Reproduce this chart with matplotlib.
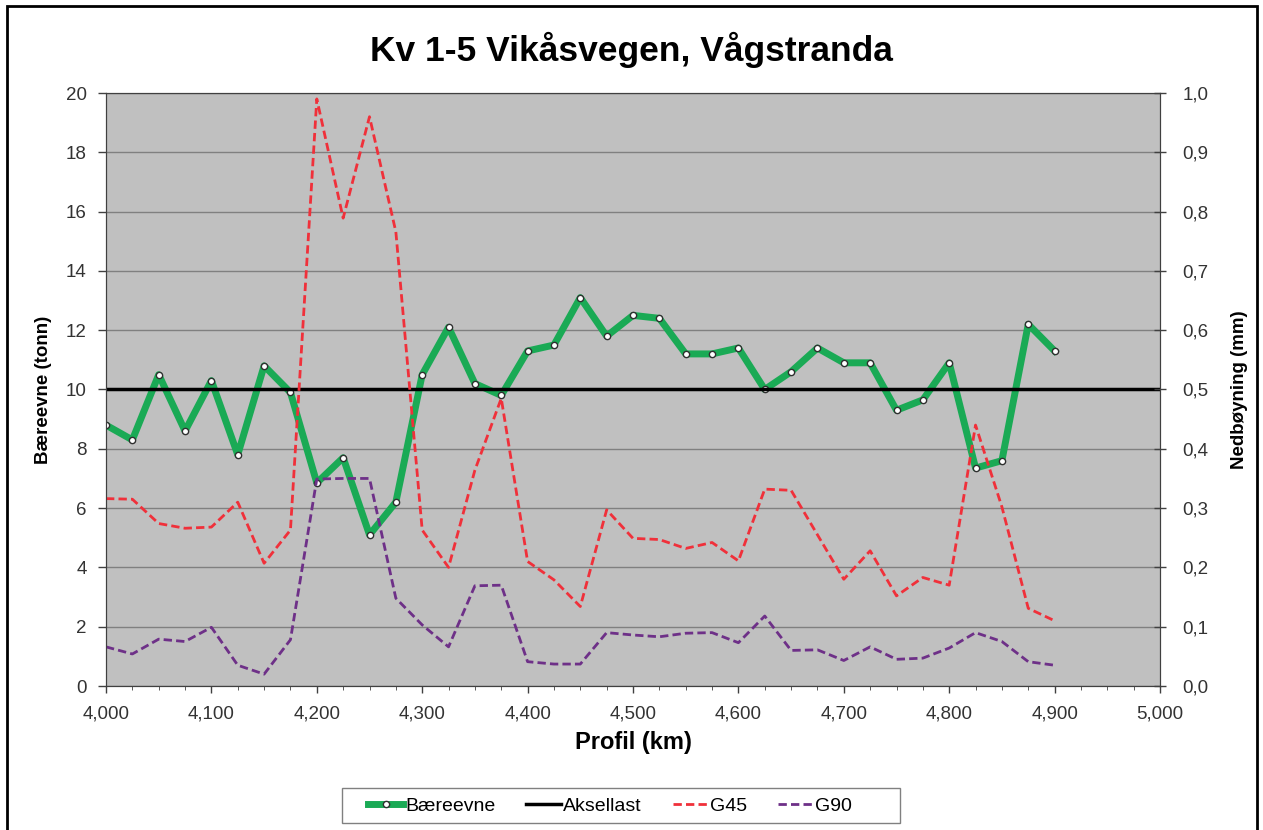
import numpy as np
import matplotlib.pyplot as plt
from matplotlib.patches import Rectangle
from matplotlib.ticker import MultipleLocator, FuncFormatter

plt.rcParams['font.family'] = ['Liberation Sans', 'DejaVu Sans']

# ================= DATA =================
profil = [4.000, 4.025, 4.050, 4.075, 4.100, 4.125, 4.150, 4.175, 4.200, 4.225,
          4.250, 4.275, 4.300, 4.325, 4.350, 4.375, 4.400, 4.425, 4.450, 4.475,
          4.500, 4.525, 4.550, 4.575, 4.600, 4.625, 4.650, 4.675, 4.700, 4.725,
          4.750, 4.775, 4.800, 4.825, 4.850, 4.875, 4.900]

baereevne = [8.8, 8.3, 10.5, 8.6, 10.3, 7.8, 10.8, 9.9, 6.85, 7.7,
             5.1, 6.2, 10.5, 12.1, 10.2, 9.8, 11.3, 11.5, 13.1, 11.8,
             12.5, 12.4, 11.2, 11.2, 11.4, 10.0, 10.6, 11.4, 10.9, 10.9,
             9.3, 9.65, 10.9, 7.35, 7.6, 12.2, 11.3]

aksellast_x = [4.0, 5.0]
aksellast = [10, 10]

g45 = [0.316, 0.315, 0.274, 0.266, 0.268, 0.310, 0.207, 0.263, 0.990, 0.789,
       0.960, 0.766, 0.263, 0.200, 0.364, 0.485, 0.210, 0.179, 0.134, 0.297,
       0.249, 0.247, 0.232, 0.242, 0.211, 0.332, 0.330, 0.255, 0.180, 0.228,
       0.152, 0.183, 0.170, 0.440, 0.302, 0.131, 0.110]

g90 = [0.066, 0.054, 0.079, 0.075, 0.099, 0.035, 0.020, 0.078, 0.349, 0.350,
       0.350, 0.148, 0.103, 0.066, 0.169, 0.170, 0.041, 0.037, 0.037, 0.090,
       0.086, 0.083, 0.089, 0.090, 0.073, 0.118, 0.060, 0.061, 0.043, 0.066,
       0.045, 0.047, 0.064, 0.090, 0.075, 0.041, 0.035]
# ========================================

fig = plt.figure(figsize=(12.63, 8.3), dpi=100)
ax = fig.add_axes([106 / 1263, 1 - 686 / 830, (1160 - 106) / 1263, (686 - 93) / 830])
ax2 = ax.twinx()

ax.set_facecolor('#C0C0C0')
ax.set_xlim(4.0, 5.0)
ax.set_ylim(0, 20)
ax2.set_ylim(0, 1.0)

ax.yaxis.set_major_locator(MultipleLocator(2))
ax2.yaxis.set_major_locator(MultipleLocator(0.1))
ax.xaxis.set_major_locator(MultipleLocator(0.1))
ax.xaxis.set_minor_locator(MultipleLocator(0.025))
ax.grid(True, axis='y', color='#808080', lw=1)
ax.set_axisbelow(True)

comma = lambda fmt: FuncFormatter(lambda v, p: (fmt % v).replace('.', ','))
ax.xaxis.set_major_formatter(comma('%.3f'))
ax.yaxis.set_major_formatter(FuncFormatter(lambda v, p: '%d' % round(v)))
ax2.yaxis.set_major_formatter(comma('%.1f'))

for a in (ax, ax2):
    a.tick_params(labelsize=13.5, width=1, color='#404040', labelcolor='#333333')
    for s in a.spines.values():
        s.set_color('#404040')
ax.tick_params(axis='y', length=6, pad=8)
ax.tick_params(axis='x', length=5, pad=9)
ax.tick_params(axis='x', which='minor', length=3, color='#404040')
ax2.tick_params(axis='y', direction='inout', length=8, pad=12)

l1, = ax.plot(profil, baereevne, color='#1AAA55', lw=5, marker='o', ms=4.5,
              mfc='white', mec='#303030', mew=1, zorder=3, label='Bæreevne')
l2, = ax.plot(aksellast_x, aksellast, color='black', lw=2.5, zorder=4, label='Aksellast')
l3, = ax2.plot(profil, g45, color='#F0303A', lw=2, ls=(0, (3, 1.5)), label='G45')
l4, = ax2.plot(profil, g90, color='#6E3088', lw=2, ls=(0, (3, 1.5)), label='G90')

fig.text(0.5, 1 - 50 / 830, 'Kv 1-5 Vikåsvegen, Vågstranda', fontsize=25.5,
         fontweight='bold', ha='center', va='center')
ax.set_xlabel('Profil (km)', fontsize=17, fontweight='bold', labelpad=6)
ax.set_ylabel('Bæreevne (tonn)', fontsize=13.5, fontweight='bold', labelpad=10)
ax2.set_ylabel('Nedbøyning (mm)', fontsize=13.5, fontweight='bold', labelpad=16)

# legend entries without their own frame; the box is drawn separately
leg = fig.legend([l1, l2, l3, l4], ['Bæreevne', 'Aksellast', 'G45', 'G90'],
                 loc='center', bbox_to_anchor=(610 / 1263, 1 - 806 / 830), ncol=4,
                 fontsize=14, frameon=False, handlelength=1.8,
                 handletextpad=0.1, columnspacing=1.6, borderaxespad=0)
fig.patches.append(Rectangle((342 / 1263, 1 - 823 / 830), 558 / 1263, 35 / 830,
                             transform=fig.transFigure, fill=True, facecolor='white',
                             edgecolor='#808080', lw=1, zorder=0))

fig.patches.append(Rectangle((7 / 1263, -0.05), 1250 / 1263, 1.05 - 6 / 830,
                             transform=fig.transFigure, fill=False,
                             edgecolor='black', lw=2))

fig.savefig('out.png', dpi=100)
